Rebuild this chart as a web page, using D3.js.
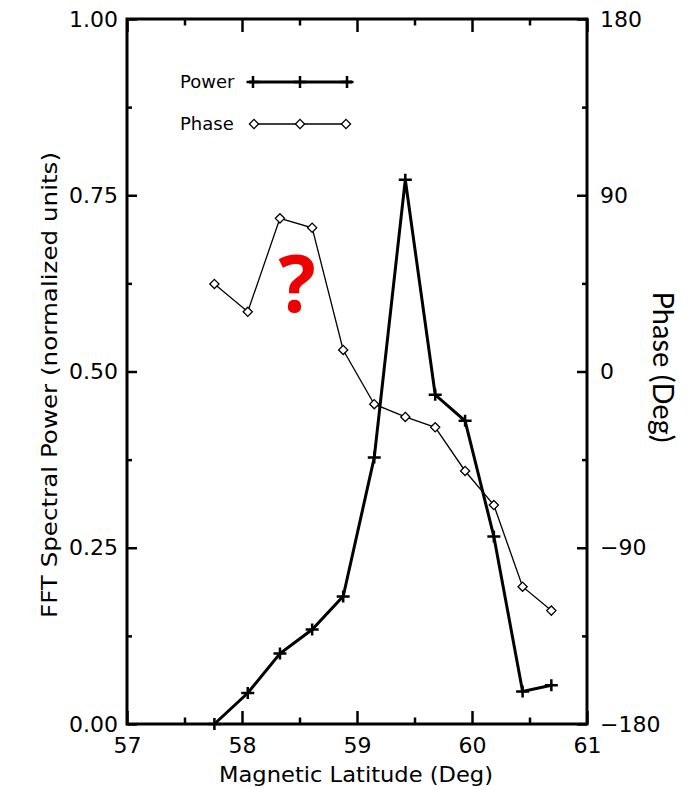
<!DOCTYPE html>
<html>
<head>
<meta charset="utf-8">
<script src="https://cdn.jsdelivr.net/npm/d3@7/dist/d3.min.js"></script>
<style>
  html, body { margin: 0; padding: 0; background: #fff; }
  svg { display: block; }
  .tick text { font-family: "DejaVu Sans", sans-serif; }
</style>
</head>
<body>
<svg id="chart" width="697" height="790"></svg>
<script>
// Magnetic latitude of each sample (deg)
const latitude = [57.76, 58.05, 58.33, 58.61, 58.88, 59.15, 59.42, 59.68, 59.94, 60.19, 60.44, 60.69];
// FFT spectral power, normalized units
const power = [0.000, 0.044, 0.100, 0.134, 0.181, 0.378, 0.772, 0.467, 0.430, 0.266, 0.046, 0.055];
// Phase (deg)
const phase = [44.7, 30.5, 78.2, 73.4, 11.0, -16.7, -23.2, -28.5, -50.8, -68.2, -109.9, -122.1];

const xTicks = [57, 58, 59, 60, 61];
const xMinorTicks = [57.5, 58.5, 59.5, 60.5];
const powerTicks = [0, 0.25, 0.5, 0.75, 1.0];
const powerMinorTicks = [0.125, 0.375, 0.625, 0.875];
const phaseTicks = [-180, -90, 0, 90, 180];
const phaseMinorTicks = [-135, -45, 45, 135];

const legendItems = ["Power", "Phase"];

const marginLeft = 127, marginTop = 19, plotW = 460, plotH = 705;

const svg = d3.select("#chart");
const g = svg.append("g").attr("transform", `translate(${marginLeft},${marginTop})`);

const x = d3.scaleLinear().domain([57, 61]).range([0, plotW]);
const yPow = d3.scaleLinear().domain([0, 1]).range([plotH, 0]);
const yPha = d3.scaleLinear().domain([-180, 180]).range([plotH, 0]);

const minus = d => d < 0 ? "\u2212" + Math.abs(d) : String(d);

function styleAxis(sel, fontSize) {
  sel.select(".domain").remove();
  sel.selectAll(".tick line").attr("stroke", "#000").attr("stroke-width", 2.5);
  sel.selectAll(".tick text").attr("font-size", fontSize).attr("fill", "#000");
}

// bottom axis
g.append("g").attr("transform", `translate(0,${plotH})`)
  .call(d3.axisBottom(x).tickValues(xTicks).tickSizeInner(-13).tickSizeOuter(0).tickPadding(13).tickFormat(d3.format("d")))
  .call(s => styleAxis(s, 22));
g.append("g").attr("transform", `translate(0,${plotH})`)
  .call(d3.axisBottom(x).tickValues(xMinorTicks).tickSizeInner(-6.5).tickSizeOuter(0).tickFormat(""))
  .call(s => styleAxis(s, 22));
// top axis (mirror, no labels)
g.append("g")
  .call(d3.axisTop(x).tickValues(xTicks).tickSizeInner(-13).tickSizeOuter(0).tickFormat(""))
  .call(s => styleAxis(s, 22));
g.append("g")
  .call(d3.axisTop(x).tickValues(xMinorTicks).tickSizeInner(-6.5).tickSizeOuter(0).tickFormat(""))
  .call(s => styleAxis(s, 22));
// left axis: power
g.append("g")
  .call(d3.axisLeft(yPow).tickValues(powerTicks).tickSizeInner(-10).tickSizeOuter(0).tickPadding(9).tickFormat(d3.format(".2f")))
  .call(s => styleAxis(s, 22));
g.append("g")
  .call(d3.axisLeft(yPow).tickValues(powerMinorTicks).tickSizeInner(-5).tickSizeOuter(0).tickFormat(""))
  .call(s => styleAxis(s, 22));
// right axis: phase
g.append("g").attr("transform", `translate(${plotW},0)`)
  .call(d3.axisRight(yPha).tickValues(phaseTicks).tickSizeInner(-10).tickSizeOuter(0).tickPadding(13).tickFormat(minus))
  .call(s => styleAxis(s, 22));
g.append("g").attr("transform", `translate(${plotW},0)`)
  .call(d3.axisRight(yPha).tickValues(phaseMinorTicks).tickSizeInner(-5).tickSizeOuter(0).tickFormat(""))
  .call(s => styleAxis(s, 22));

// plot frame
g.append("rect").attr("x", 0).attr("y", 0).attr("width", plotW).attr("height", plotH)
  .attr("fill", "none").attr("stroke", "#000").attr("stroke-width", 3);

// axis titles
svg.append("text")
  .attr("transform", "translate(57,385) rotate(-90)")
  .attr("text-anchor", "middle")
  .attr("font-family", "DejaVu Sans, sans-serif").attr("font-size", 22)
  .attr("textLength", 466).attr("lengthAdjust", "spacingAndGlyphs")
  .text("FFT Spectral Power (normalized units)");
svg.append("text")
  .attr("x", 356).attr("y", 782)
  .attr("text-anchor", "middle")
  .attr("font-family", "DejaVu Sans, sans-serif").attr("font-size", 21)
  .attr("textLength", 274).attr("lengthAdjust", "spacingAndGlyphs")
  .text("Magnetic Latitude (Deg)");
svg.append("text")
  .attr("transform", "translate(653,367) rotate(90)")
  .attr("text-anchor", "middle")
  .attr("font-family", "Lato, sans-serif").attr("font-size", 29)
  .text("Phase (Deg)");

// markers
const crossPath = "M-6.5,0H6.5M0,-6V6";
const diamondPath = "M0,-4.6L4.6,0L0,4.6L-4.6,0Z";

const phaseData = latitude.map((lat, i) => ({ lat, v: phase[i] }));
const powerData = latitude.map((lat, i) => ({ lat, v: power[i] }));

// phase series
g.append("path").datum(phaseData)
  .attr("fill", "none").attr("stroke", "#000").attr("stroke-width", 1.3)
  .attr("d", d3.line().x(d => x(d.lat)).y(d => yPha(d.v)));
g.selectAll(".pha").data(phaseData).join("path").attr("class", "pha")
  .attr("transform", d => `translate(${x(d.lat)},${yPha(d.v)})`)
  .attr("d", diamondPath).attr("fill", "#fff").attr("stroke", "#000").attr("stroke-width", 1.3);

// power series
g.append("path").datum(powerData)
  .attr("fill", "none").attr("stroke", "#000").attr("stroke-width", 3).attr("stroke-linejoin", "miter")
  .attr("d", d3.line().x(d => x(d.lat)).y(d => yPow(d.v)));
g.selectAll(".pow").data(powerData).join("path").attr("class", "pow")
  .attr("transform", d => `translate(${x(d.lat)},${yPow(d.v)})`)
  .attr("d", crossPath).attr("fill", "none").attr("stroke", "#000").attr("stroke-width", 2.5);

// legend
const legend = svg.append("g");
const legendRows = [{ y: 82, w: 3, marker: crossPath, mw: 2.5 }, { y: 124, w: 1.3, marker: diamondPath, mw: 1.3 }];
legendItems.forEach((name, i) => {
  const r = legendRows[i];
  legend.append("text").attr("x", 180).attr("y", r.y + 6)
    .attr("font-family", "DejaVu Sans, sans-serif").attr("font-size", 18).text(name);
  legend.append("line").attr("x1", i === 0 ? 249 : 254).attr("x2", i === 0 ? 352 : 346)
    .attr("y1", r.y).attr("y2", r.y).attr("stroke", "#000").attr("stroke-width", r.w);
  [i === 0 ? 253 : 254, 300, i === 0 ? 347 : 346].forEach(mx => {
    legend.append("path").attr("transform", `translate(${mx},${r.y})`).attr("d", r.marker)
      .attr("fill", i === 0 ? "none" : "#fff").attr("stroke", "#000").attr("stroke-width", r.mw);
  });
});

// annotation mark
svg.append("text").attr("x", 297).attr("y", 312)
  .attr("text-anchor", "middle")
  .attr("font-family", "Open Sans, sans-serif").attr("font-weight", "bold").attr("font-size", 78)
  .attr("fill", "#ee0000")
  .text("?");
</script>
</body>
</html>
